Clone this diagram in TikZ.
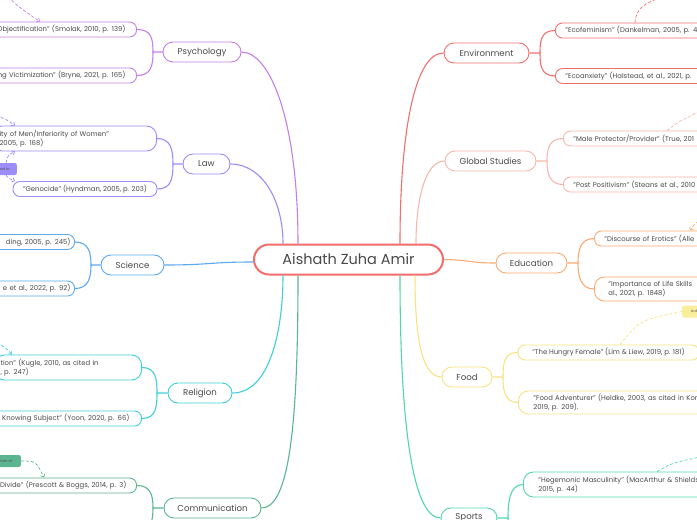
\documentclass[tikz,border=0pt]{standalone}
\usepackage{fontspec}
\setmainfont{Poppins}
\usetikzlibrary{arrows.meta}
\definecolor{cRoot}{HTML}{F26D6A}
\definecolor{cPsy}{HTML}{C47FE8}
\definecolor{cLaw}{HTML}{9C8DF9}
\definecolor{cSci}{HTML}{5BA9F2}
\definecolor{cRel}{HTML}{3DD0DA}
\definecolor{cCom}{HTML}{5DB58F}
\definecolor{cEnv}{HTML}{F2706C}
\definecolor{cGlo}{HTML}{F8B7AB}
\definecolor{cEdu}{HTML}{FBAA74}
\definecolor{cFood}{HTML}{F7E383}
\definecolor{cFoodL}{HTML}{F8EE9C}
\definecolor{cSpo}{HTML}{52D8A8}
\definecolor{txt}{HTML}{4A4A4A}
\begin{document}
\begin{tikzpicture}[x=1pt,y=-1pt,
 rootbox/.style={draw=cRoot, line width=2pt, rounded corners=15pt, minimum width=189pt, minimum height=30pt, inner sep=0pt, fill=white, text=txt, font=\fontsize{14.5}{17}\selectfont},
 topic/.style={draw=#1, line width=0.9pt, rounded corners=10pt, minimum height=20pt, inner sep=0pt, fill=white, text=txt, font=\fontsize{8.6}{10}\selectfont},
 leaf/.style={draw=#1, line width=0.9pt, rounded corners=7pt, minimum height=15pt, inner ysep=0pt, fill=white, text=txt, font=\fontsize{6.85}{9}\selectfont},
 twoline/.style={minimum height=25pt, rounded corners=10pt},
 branch/.style={draw=#1, line width=1.1pt},
 rellink/.style={draw=#1, line width=0.7pt, dash pattern=on 3pt off 2pt},
 arrowtip/.style={-{Straight Barb[length=2.5pt,width=4.5pt]}},
 tagbox/.style={fill=#1, rounded corners=2pt, inner sep=0pt, minimum height=12pt, text=txt, font=\fontsize{3.6}{4}\selectfont}
]
\useasboundingbox (0,0) rectangle (697,520);
\fill[white] (0,0) rectangle (697,520);

% root
\node[rootbox] (root) at (348.5,259.5) {Aishath Zuha Amir};

% topics
\node[topic=cPsy, minimum width=78pt] (psy) at (202,52) {Psychology};
\node[topic=cLaw, minimum width=47pt] (law) at (206.5,164) {Law};
\node[topic=cSci, minimum width=63pt] (sci) at (132.5,265) {Science};
\node[topic=cRel, minimum width=64pt] (relg) at (200,393) {Religion};
\node[topic=cCom, minimum width=97pt] (com) at (212.5,508) {Communication};
\node[topic=cEnv, minimum width=85pt] (env) at (486.5,53) {Environment};
\node[topic=cGlo, minimum width=91pt] (glo) at (490.5,161) {Global Studies};
\node[topic=cEdu, minimum width=71pt] (edu) at (531.5,263) {Education};
\node[topic=cFood, minimum width=50pt] (food) at (467,377) {Food};
\node[topic=cSpo, minimum width=56pt] (spo) at (469,518) {Sports};

% left leaves
\node[leaf=cPsy, anchor=east, text width=150pt, align=right, inner xsep=11pt] (p1) at (137,29.5) {"Objectification" (Smolak, 2010, p. 139)};
\node[leaf=cPsy, anchor=east, text width=150pt, align=right, inner xsep=11pt] (p2) at (137,75.5) {ng Victimization" (Bryne, 2021, p. 165)};
\node[leaf=cLaw, twoline, anchor=east, text width=150pt, align=left, inner xsep=7pt] (l1) at (157,138.5) {ity of Men/Inferiority of Women"\\2005, p. 168)};
\node[leaf=cLaw, minimum width=144pt, inner xsep=0pt] (l2) at (85,189) {"Genocide" (Hyndman, 2005, p. 203)};
\node[leaf=cSci, anchor=east, text width=100pt, align=right, inner xsep=4pt] (s1) at (75,242) {ding, 2005, p. 245)};
\node[leaf=cSci, anchor=east, text width=100pt, align=right, inner xsep=4pt] (s2) at (75,288.5) {e et al., 2022, p. 92)};
\node[leaf=cRel, twoline, anchor=east, text width=135pt, align=left, inner xsep=6pt] (r1) at (142,367.5) {tion" (Kugle, 2010, as cited in\\, p. 247)};
\node[leaf=cRel, anchor=east, text width=150pt, align=right, inner xsep=12pt] (r2) at (142,418.5) {l Knowing Subject" (Yoon, 2020, p. 66)};
\node[leaf=cCom, anchor=east, text width=150pt, align=right, inner xsep=10pt] (c1) at (137,485.5) {Divide" (Prescott \& Boggs, 2014, p. 3)};
\coordinate (c2) at (137,533);

% right leaves
\node[leaf=cEnv, anchor=west, text width=200pt, align=left, inner xsep=10pt] (e1) at (555,30.5) {"Ecofeminism" (Dankelman, 2005, p. 4};
\node[leaf=cEnv, anchor=west, text width=200pt, align=left, inner xsep=10pt] (e2) at (555,76) {"Ecoanxiety" (Halstead, et al., 2021, p.};
\node[leaf=cGlo, anchor=west, text width=200pt, align=left, inner xsep=10pt] (g1) at (563,138.5) {"Male Protector/Provider" (True, 201};
\node[leaf=cGlo, anchor=west, text width=200pt, align=left, inner xsep=10pt] (g2) at (563,184.5) {"Post Positivism" (Steans et al., 2010};
\node[leaf=cEdu, anchor=west, text width=200pt, align=left, inner xsep=10pt] (ed1) at (594,238.5) {"Discourse of Erotics" (Alle};
\node[leaf=cEdu, twoline, minimum height=24pt, anchor=west, text width=200pt, align=left, inner xsep=14pt] (ed2) at (594,289) {"Importance of Life Skills\\al., 2021, p. 1848)};
\node[leaf=cFood, minimum width=181pt, inner xsep=0pt] (f1) at (608.5,352.5) {"The Hungry Female" (Lim \& Liew, 2019, p. 181)};
\node[leaf=cFood, twoline, minimum height=23pt, anchor=west, text width=200pt, align=left, inner xsep=15pt] (f2) at (518,402.5) {"Food Adventurer" (Heldke, 2003, as cited in Kor\\2019, p. 209).};
\node[leaf=cSpo, twoline, anchor=west, text width=200pt, align=left, inner xsep=15pt] (sp1) at (523,484.5) {"Hegemonic Masculinity" (MacArthur \& Shields,\\2015, p. 44)};
\coordinate (sp2) at (523,553);

% tags
\node[tagbox=cLaw, anchor=east, minimum width=26pt] (lawtag) at (17,169) {ead to};
\node[tagbox=cCom, anchor=east, minimum width=30pt] (comtag) at (21,461) {ctim of};
\node[tagbox=cFoodL, anchor=west, minimum width=26pt] (foodtag) at (682,311.5) {is de};

% main branches
\draw[branch=cPsy] (psy.east) .. controls (270,52) and (298,120) .. (root.north -| 298,0);
\draw[branch=cLaw] (law.east) .. controls (262,164) and (283,200) .. (root.north -| 283,0);
\draw[branch=cSci] (sci.east) .. controls (210,265) and (210,262) .. (root.west |- 0,262);
\draw[branch=cRel] (relg.east) .. controls (270,393) and (283,330) .. (root.south -| 283,0);
\draw[branch=cCom] (com.east) .. controls (290,508) and (298,420) .. (root.south -| 298,0);
\draw[branch=cEnv] (env.west) .. controls (415,53) and (400,130) .. (root.north -| 400,0);
\draw[branch=cGlo] (glo.west) .. controls (425,161) and (416,200) .. (root.north -| 416,0);
\draw[branch=cEdu] (edu.west) .. controls (470,263) and (470,260) .. (root.east);
\draw[branch=cFood] (food.west) .. controls (420,377) and (415,330) .. (root.south -| 415,0);
\draw[branch=cSpo] (spo.west) .. controls (412,518) and (400,420) .. (root.south -| 400,0);

% sub-branches (left)
\coordinate (psyJ) at (153,52);
\draw[branch=cPsy] (p1.east) .. controls +(14,0) and +(0,-14) .. (psyJ) -- (psy.west);
\draw[branch=cPsy] (p2.east) .. controls +(14,0) and +(0,14) .. (psyJ);
\coordinate (lawJ) at (173,164);
\draw[branch=cLaw] (l1.east) .. controls +(14,0) and +(0,-14) .. (lawJ) -- (law.west);
\draw[branch=cLaw] (l2.east) .. controls +(14,0) and +(0,14) .. (lawJ);
\coordinate (sciJ) at (91,265);
\draw[branch=cSci] (s1.east) .. controls +(14,0) and +(0,-12) .. (sciJ) -- (sci.west);
\draw[branch=cSci] (s2.east) .. controls +(14,0) and +(0,12) .. (sciJ);
\coordinate (relJ) at (157,393);
\draw[branch=cRel] (r1.east) .. controls +(14,0) and +(0,-14) .. (relJ) -- (relg.west);
\draw[branch=cRel] (r2.east) .. controls +(14,0) and +(0,14) .. (relJ);
\coordinate (comJ) at (153,508);
\draw[branch=cCom] (c1.east) .. controls +(14,0) and +(0,-12) .. (comJ) -- (com.west);
\draw[branch=cCom] (c2) .. controls +(14,0) and +(0,12) .. (comJ);

% sub-branches (right)
\coordinate (envJ) at (540,53);
\draw[branch=cEnv] (e1.west) .. controls +(-14,0) and +(0,-12) .. (envJ) -- (env.east);
\draw[branch=cEnv] (e2.west) .. controls +(-14,0) and +(0,12) .. (envJ);
\coordinate (gloJ) at (547,161);
\draw[branch=cGlo] (g1.west) .. controls +(-14,0) and +(0,-12) .. (gloJ) -- (glo.east);
\draw[branch=cGlo] (g2.west) .. controls +(-14,0) and +(0,12) .. (gloJ);
\coordinate (eduJ) at (578,263);
\draw[branch=cEdu] (ed1.west) .. controls +(-14,0) and +(0,-12) .. (eduJ) -- (edu.east);
\draw[branch=cEdu] (ed2.west) .. controls +(-14,0) and +(0,12) .. (eduJ);
\coordinate (foodJ) at (503,377);
\draw[branch=cFood] (f1.west) .. controls +(-14,0) and +(0,-12) .. (foodJ) -- (food.east);
\draw[branch=cFood] (f2.west) .. controls +(-14,0) and +(0,12) .. (foodJ);
\coordinate (spoJ) at (508,518);
\draw[branch=cSpo] (sp1.west) .. controls +(-14,0) and +(0,-14) .. (spoJ) -- (spo.east);
\draw[branch=cSpo] (sp2) .. controls +(-14,0) and +(0,14) .. (spoJ);

% relation links
\coordinate (psyX) at (8,-3);
\draw[rellink=cPsy, arrowtip] (psyX) .. controls (20,8) .. (p1.north -| 40,0);
\coordinate (lawX) at (-4,116);
\draw[rellink=cLaw, arrowtip] (lawX) .. controls (6,119) .. (l1.north -| 15,0);
\draw[rellink=cLaw, arrowtip] (lawtag.north -| 6,0) .. controls (8,155) .. (l1.south -| 15,0);
\draw[rellink=cLaw, arrowtip] (lawtag.south -| 6,0) .. controls (8,178) .. (l2.north -| 15,0);
\coordinate (relX) at (-3,343);
\draw[rellink=cRel, arrowtip] (relX) .. controls (6,348) .. (r1.north -| 12,0);
\draw[rellink=cCom, arrowtip] (comtag.east) .. controls (36,461) .. (c1.north -| 44,0);
\coordinate (envX) at (662,-3);
\draw[rellink=cEnv] (e1.north -| 635,0) .. controls (636,8) and (645,3) .. (envX);
\coordinate (gloX) at (700,111);
\draw[rellink=cGlo] (g1.north -| 667,0) .. controls (678,122) .. (gloX);
\coordinate (eduX) at (703,219);
\draw[rellink=cEdu, arrowtip] (eduX) .. controls (695,223) .. (ed1.north -| 690,0);
\draw[rellink=cFood] (foodtag.west) .. controls (640,320) .. (f1.north -| 620,0);
\coordinate (spoX) at (700,457);
\draw[rellink=cSpo] (sp1.north -| 657,0) .. controls (672,463) .. (spoX);
\end{tikzpicture}
\end{document}
